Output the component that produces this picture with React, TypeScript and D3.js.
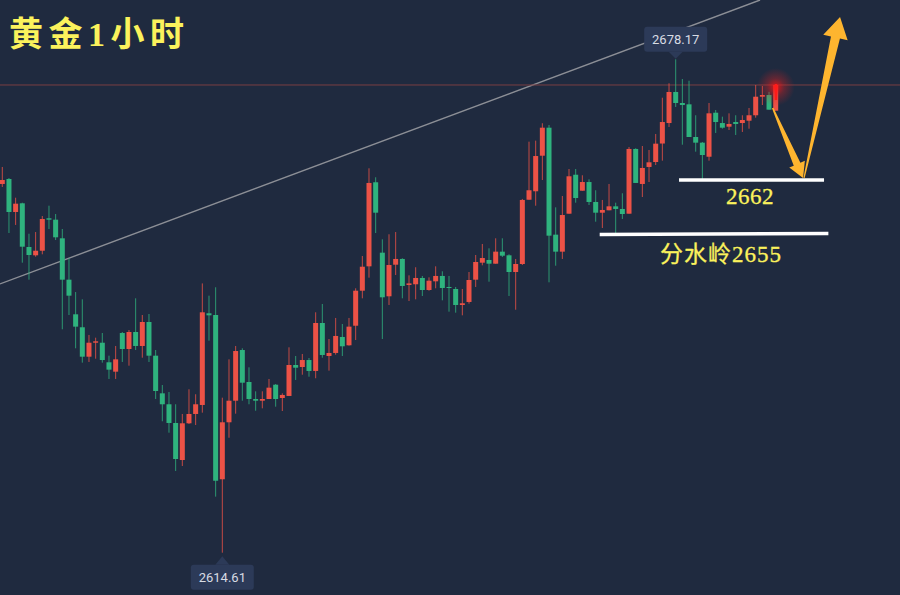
import React from 'react';
import * as d3 from 'd3';

// hourly gold candles
const opens = [
  2662.11, 2662.75, 2658.5, 2659.62, 2653.99, 2652.92, 2653.51, 2657.69, 2657.51, 2655.11,
  2649.78, 2645.32, 2643.65, 2639.86, 2641.66, 2641.66, 2639.14, 2637.93, 2642.91, 2640.85,
  2643.04, 2641.24, 2644.33, 2639.99, 2635.14, 2633.73, 2631.32, 2626.55, 2631.28, 2632.48,
  2633.64, 2645.45, 2645.23, 2624.07, 2631.41, 2634.19, 2640.72, 2636.6, 2634.41, 2634.19,
  2634.41, 2636.25, 2634.54, 2634.8, 2638.79, 2638.53, 2639.43, 2638.02, 2644.2, 2639.95,
  2640.34, 2642.4, 2641.33, 2643.85, 2648.36, 2651.5, 2662.33, 2653.26, 2647.64, 2651.71,
  2652.45, 2649.1, 2649.19, 2650.0, 2648.45, 2649.57, 2650.26, 2648.84, 2648.58, 2646.52,
  2646.91, 2649.78, 2651.97, 2652.32, 2651.84, 2653.39, 2652.92, 2650.77, 2651.8, 2660.08,
  2661.17, 2665.75, 2669.36, 2655.58, 2653.39, 2658.28, 2663.3, 2661.24, 2662.36, 2659.79,
  2658.41, 2658.72, 2659.23, 2658.89, 2658.28, 2666.62, 2662.11, 2664.3, 2664.94, 2667.32,
  2669.96, 2673.96, 2672.54, 2672.37, 2668.16, 2667.43, 2665.62, 2671.29, 2669.96, 2669.49,
  2670.09, 2669.96, 2670.26, 2670.96, 2673.35, 2673.57, 2671.55,
];
const highs = [
  2664.3, 2662.88, 2660.34, 2659.7, 2655.7, 2655.92, 2657.98, 2659.31, 2658.24, 2656.31,
  2652.54, 2648.19, 2647.25, 2642.66, 2642.31, 2642.91, 2639.99, 2641.24, 2643.04, 2643.3,
  2647.38, 2645.23, 2645.36, 2640.72, 2636.21, 2635.31, 2633.73, 2632.48, 2635.66, 2635.02,
  2649.3, 2647.72, 2648.8, 2634.58, 2639.52, 2641.24, 2640.94, 2638.49, 2635.4, 2635.4,
  2636.99, 2636.34, 2635.14, 2641.07, 2639.95, 2640.21, 2639.69, 2645.58, 2646.65, 2642.14,
  2644.85, 2644.07, 2644.85, 2648.67, 2652.83, 2664.13, 2662.97, 2654.98, 2655.63, 2655.92,
  2652.54, 2650.34, 2651.38, 2650.26, 2650.08, 2651.5, 2650.86, 2650.26, 2648.84, 2648.58,
  2650.77, 2652.96, 2654.38, 2653.82, 2655.11, 2655.11, 2653.05, 2652.45, 2660.18, 2667.56,
  2667.69, 2669.93, 2669.71, 2659.1, 2660.56, 2664.04, 2664.04, 2663.23, 2662.71, 2661.3,
  2660.05, 2662.11, 2659.7, 2660.91, 2666.87, 2666.71, 2667.0, 2666.49, 2668.55, 2673.22,
  2675.08, 2678.17, 2675.63, 2675.41, 2670.96, 2667.52, 2672.54, 2671.64, 2670.78, 2671.21,
  2670.96, 2670.96, 2671.9, 2674.86, 2674.73, 2673.98, 2674.86,
];
const lows = [
  2661.72, 2655.79, 2656.83, 2651.97, 2649.78, 2652.74, 2653.05, 2656.31, 2654.89, 2643.39,
  2645.23, 2640.94, 2639.09, 2639.18, 2639.6, 2639.09, 2636.99, 2636.99, 2639.18, 2638.7,
  2640.72, 2639.73, 2639.18, 2634.41, 2631.54, 2630.07, 2625.14, 2625.78, 2631.19, 2631.06,
  2632.65, 2641.92, 2621.83, 2614.61, 2629.42, 2632.52, 2634.19, 2633.73, 2632.9, 2633.21,
  2634.41, 2633.42, 2632.86, 2634.8, 2636.86, 2637.54, 2637.28, 2637.08, 2639.73, 2638.06,
  2640.12, 2639.95, 2641.28, 2642.01, 2647.38, 2650.04, 2655.79, 2642.14, 2646.52, 2650.38,
  2647.38, 2647.03, 2647.25, 2647.68, 2648.36, 2648.67, 2647.12, 2645.66, 2645.53, 2645.19,
  2646.69, 2648.84, 2651.63, 2649.52, 2651.84, 2652.7, 2647.68, 2645.91, 2651.67, 2660.08,
  2659.31, 2662.62, 2649.44, 2651.58, 2652.45, 2658.28, 2659.7, 2661.24, 2659.4, 2657.25,
  2656.44, 2658.72, 2655.67, 2657.6, 2658.28, 2662.24, 2660.43, 2662.36, 2664.55, 2665.11,
  2669.45, 2672.03, 2667.17, 2668.16, 2666.27, 2662.62, 2665.11, 2668.68, 2669.23, 2669.06,
  2668.42, 2668.81, 2669.23, 2670.65, 2672.28, 2671.68, 2671.55,
];
const closes = [
  2662.62, 2658.5, 2659.57, 2654.03, 2652.96, 2653.51, 2657.6, 2657.51, 2655.24, 2649.78,
  2647.72, 2643.73, 2639.86, 2641.66, 2641.84, 2639.43, 2638.19, 2639.52, 2640.85, 2643.04,
  2641.24, 2644.33, 2639.99, 2635.44, 2633.73, 2631.32, 2626.68, 2631.28, 2632.48, 2633.73,
  2645.58, 2645.19, 2623.88, 2631.41, 2634.19, 2640.59, 2636.51, 2634.41, 2634.19, 2634.41,
  2635.87, 2634.41, 2634.93, 2638.79, 2638.44, 2639.43, 2638.02, 2644.2, 2640.08, 2640.34,
  2642.53, 2641.2, 2643.73, 2648.36, 2651.45, 2662.24, 2658.41, 2647.51, 2651.67, 2652.45,
  2648.97, 2649.3, 2650.0, 2648.45, 2649.65, 2650.26, 2648.71, 2648.71, 2646.52, 2646.74,
  2649.74, 2652.06, 2652.57, 2651.84, 2653.39, 2652.87, 2650.77, 2651.8, 2660.05, 2661.3,
  2665.71, 2669.36, 2655.45, 2653.39, 2658.11, 2663.1, 2660.3, 2662.36, 2659.79, 2658.41,
  2658.76, 2659.23, 2658.89, 2658.24, 2666.62, 2662.24, 2664.17, 2664.9, 2667.3, 2670.09,
  2673.96, 2672.54, 2672.28, 2668.16, 2667.43, 2665.84, 2671.21, 2670.09, 2669.36, 2669.84,
  2669.84, 2670.35, 2670.96, 2673.35, 2673.57, 2671.68, 2674.86,
];

const lastPrice = 2674.86;
const maxLabel = '2678.17';
const minLabel = '2614.61';
const maxIndex = 101;
const minIndex = 33;

const titleText = '黄金1小时';
const upperLevel = 2662.62;
const lowerLevel = 2655.6;
const upperLabel = '2662';
const lowerLabel = '分水岭2655';

const width = 900;
const height = 595;
const bg = '#1f2a3f';
const up = '#ec5246';
const down = '#2fb37e';
const yellow = '#fbf25c';
const orange = '#feb52f';
const labelFont = '"Liberation Serif", "Noto Sans CJK SC", serif';

const x = d3.scaleLinear().domain([0, 116]).range([2.3, 775.7]);
const y = d3.scaleLinear().domain([2614.61, 2678.17]).range([552.7, 59.3]);

// arrow polygon: thin tail, wider neck, then barbs and tip
const arrowPath = (
  tail: [number, number],
  tip: [number, number],
  headLen: number,
  headHalf: number,
  neckHalf: number,
  tailHalf: number,
) => {
  const [x0, y0] = [x(tail[0]), y(tail[1])];
  const [x1, y1] = [x(tip[0]), y(tip[1])];
  const len = Math.hypot(x1 - x0, y1 - y0);
  const [ux, uy] = [(x1 - x0) / len, (y1 - y0) / len];
  const [nx, ny] = [-uy, ux];
  const [hx, hy] = [x1 - ux * headLen, y1 - uy * headLen];
  const path = d3.path();
  path.moveTo(x0 + nx * tailHalf, y0 + ny * tailHalf);
  path.lineTo(hx + nx * neckHalf, hy + ny * neckHalf);
  path.lineTo(hx + nx * headHalf, hy + ny * headHalf);
  path.lineTo(x1, y1);
  path.lineTo(hx - nx * headHalf, hy - ny * headHalf);
  path.lineTo(hx - nx * neckHalf, hy - ny * neckHalf);
  path.lineTo(x0 - nx * tailHalf, y0 - ny * tailHalf);
  path.closePath();
  return path.toString();
};

const Tip: React.FC<{ index: number; price: number; label: string; above: boolean }> = ({
  index,
  price,
  label,
  above,
}) => {
  const cx = x(index);
  const py = y(price);
  const dir = above ? -1 : 1;
  const boxH = 25;
  const boxW = 63;
  const boxNear = py + dir * 8;
  const boxTop = above ? boxNear - boxH + 0.5 : boxNear + 4;
  const tipY = above ? py - 0.5 : py + 3.5;
  const baseY = above ? boxTop + boxH : boxTop;
  return (
    <g>
      <path
        d={`M${cx - 7},${baseY}L${cx},${tipY}L${cx + 7},${baseY}Z`}
        fill="#2c3a58"
      />
      <rect x={cx - boxW / 2} y={boxTop} width={boxW} height={boxH} rx={3} fill="#2c3a58" />
      <text
        x={cx}
        y={boxTop + boxH / 2 + 4.5}
        textAnchor="middle"
        fontFamily="Roboto, sans-serif"
        fontSize={13}
        fill="#d8dce4"
      >
        {label}
      </text>
    </g>
  );
};

const App: React.FC = () => {
  const lastX = x(116);
  const lastY = y(lastPrice);
  return (
    <svg
      width={width}
      height={height}
      style={{ position: 'fixed', left: 0, top: 0, display: 'block' }}
    >
      <defs>
        <radialGradient id="glow">
          <stop offset="0%" stopColor="#ff1010" stopOpacity={0.85} />
          <stop offset="45%" stopColor="#e02020" stopOpacity={0.35} />
          <stop offset="100%" stopColor="#d02020" stopOpacity={0} />
        </radialGradient>
      </defs>
      <rect width={width} height={height} fill={bg} />

      <line
        x1={x(-0.35)}
        y1={y(2649.23)}
        x2={x(113.65)}
        y2={y(2685.81)}
        stroke="#8c8f96"
        strokeWidth={1.4}
      />
      <line x1={0} x2={width} y1={lastY} y2={lastY} stroke="#7a3f42" strokeWidth={1} />

      {opens.map((open, i) => {
        const close = closes[i];
        const color = close >= open ? up : down;
        const cx = x(i);
        const top = y(Math.max(open, close));
        const bottom = y(Math.min(open, close));
        return (
          <g key={i}>
            <line
              x1={cx}
              x2={cx}
              y1={y(highs[i])}
              y2={y(lows[i])}
              stroke={color}
              strokeWidth={1}
              strokeOpacity={0.8}
            />
            <rect
              x={cx - 2.5}
              y={top}
              width={5}
              height={Math.max(bottom - top, 1)}
              fill={color}
            />
          </g>
        );
      })}

      <circle cx={lastX} cy={lastY + 2} r={19} fill="url(#glow)" />
      <rect x={lastX - 1} y={lastY - 1} width={2.5} height={16} fill="#ff1a1a" />

      <Tip index={maxIndex} price={2678.17} label={maxLabel} above />
      <Tip index={minIndex} price={2614.61} label={minLabel} above={false} />

      <line
        x1={x(101.5)}
        x2={x(123.25)}
        y1={y(upperLevel)}
        y2={y(upperLevel)}
        stroke="#ffffff"
        strokeWidth={3.5}
      />
      <line
        x1={x(89.6)}
        x2={x(123.9)}
        y1={y(lowerLevel)}
        y2={y(lowerLevel + 0.13)}
        stroke="#ffffff"
        strokeWidth={3.5}
      />

      <path d={arrowPath([115.55, 2671.9], [120.1, 2662.88], 15, 8.5, 3.6, 0.8)} fill={orange} />
      <path d={arrowPath([120.25, 2662.88], [125.65, 2683.62], 21, 12.5, 4.6, 0.6)} fill={orange} />

      <text
        x={9}
        y={45.5}
        fontFamily={labelFont}
        fontSize={34}
        fontWeight={700}
        letterSpacing={5.5}
        fill={yellow}
      >
        {titleText}
      </text>
      <text
        x={x(108.55)}
        y={203.5}
        fontFamily={labelFont}
        fontSize={23}
        letterSpacing={0.5}
        fill={yellow}
        stroke={yellow}
        strokeWidth={0.3}
      >
        {upperLabel}
      </text>
      <text
        x={x(98.65)}
        y={261.5}
        fontFamily={labelFont}
        fontSize={23}
        letterSpacing={1}
        fill={yellow}
        stroke={yellow}
        strokeWidth={0.3}
      >
        {lowerLabel}
      </text>
    </svg>
  );
};

export default App;
